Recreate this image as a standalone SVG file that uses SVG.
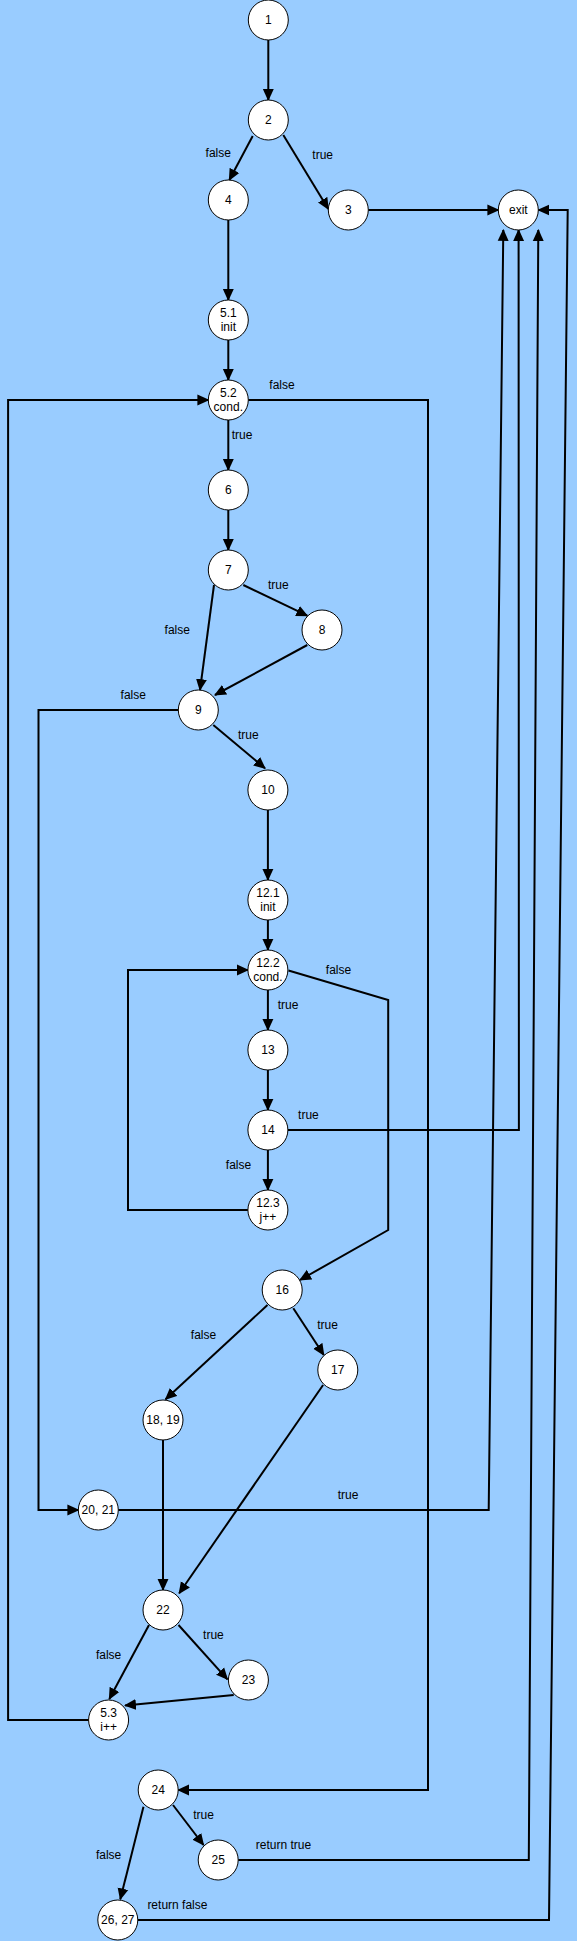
<svg xmlns="http://www.w3.org/2000/svg" width="577" height="1941" viewBox="0 0 577 1941">
<style>
.n{fill:#fff;stroke:#000;stroke-width:1}
.t{font-family:"Liberation Sans",Arial,sans-serif;font-size:12px;fill:#000;text-anchor:middle}
.e{fill:none;stroke:#000;stroke-width:2}
</style>
<defs>
<marker id="a" markerUnits="userSpaceOnUse" markerWidth="12" markerHeight="12" viewBox="0 0 11 10" refX="10" refY="5" orient="auto">
<path d="M0,0 L11,5 L0,10 z" fill="#000"/>
</marker>
</defs>
<rect width="577" height="1941" fill="#99CCFF"/>
<g id="edges">
<path class="e" marker-end="url(#a)" d="M268.3,40 L268.3,100"/>
<path class="e" marker-end="url(#a)" d="M252.7,136 L229.3,180"/>
<path class="e" marker-end="url(#a)" d="M283.3,135 L328.3,209"/>
<path class="e" marker-end="url(#a)" d="M368.3,210 L498.3,210"/>
<path class="e" marker-end="url(#a)" d="M228.3,220 L228.3,300"/>
<path class="e" marker-end="url(#a)" d="M228.3,340 L228.3,380"/>
<path class="e" marker-end="url(#a)" d="M228.3,420 L228.3,470"/>
<path class="e" marker-end="url(#a)" d="M228.3,510 L228.3,550"/>
<path class="e" marker-end="url(#a)" d="M243.3,585 L307.3,615.7"/>
<path class="e" marker-end="url(#a)" d="M214,585 L200,690"/>
<path class="e" marker-end="url(#a)" d="M307.3,645 L215,695"/>
<path class="e" marker-end="url(#a)" d="M213.3,725 L265,768.3"/>
<path class="e" marker-end="url(#a)" d="M178.3,710 L38.5,710 L38.5,1510 L78.3,1510"/>
<path class="e" marker-end="url(#a)" d="M248.3,400 L428,400 L428,1790 L178.2,1790"/>
<path class="e" marker-end="url(#a)" d="M88.6,1720 L8.1,1720 L8.1,400 L208.3,400"/>
<path class="e" marker-end="url(#a)" d="M267.9,810 L267.9,880"/>
<path class="e" marker-end="url(#a)" d="M267.9,920 L267.9,950"/>
<path class="e" marker-end="url(#a)" d="M267.9,990 L267.9,1030"/>
<path class="e" marker-end="url(#a)" d="M267.9,1070 L267.9,1110"/>
<path class="e" marker-end="url(#a)" d="M267.9,1150 L267.9,1190"/>
<path class="e" marker-end="url(#a)" d="M247.9,1210 L128,1210 L128,970 L247.9,970"/>
<path class="e" marker-end="url(#a)" d="M288.5,970.5 L388.2,1000 L388.2,1230 L300,1280"/>
<path class="e" marker-end="url(#a)" d="M287.9,1130 L518.9,1130 L518.6,230"/>
<path class="e" marker-end="url(#a)" d="M293.3,1308.3 L323.8,1355"/>
<path class="e" marker-end="url(#a)" d="M267.5,1305 L165.6,1399.3"/>
<path class="e" marker-end="url(#a)" d="M323.1,1385 L179.2,1593.3"/>
<path class="e" marker-end="url(#a)" d="M163,1440 L163,1590"/>
<path class="e" marker-end="url(#a)" d="M118.3,1510 L488.7,1510 L503.3,230"/>
<path class="e" marker-end="url(#a)" d="M178.5,1625 L227.4,1679.3"/>
<path class="e" marker-end="url(#a)" d="M149,1625 L109.3,1699"/>
<path class="e" marker-end="url(#a)" d="M233.7,1695 L125.1,1705.5"/>
<path class="e" marker-end="url(#a)" d="M173,1805 L203.5,1845"/>
<path class="e" marker-end="url(#a)" d="M143.5,1806.7 L120.3,1899.3"/>
<path class="e" marker-end="url(#a)" d="M238.2,1860 L528.8,1860 L538.3,230"/>
<path class="e" marker-end="url(#a)" d="M137.8,1920 L549,1920 L567.7,210 L538.3,210"/>
</g>
<g id="edge-labels">
<text class="t" x="218.3" y="157">false</text>
<text class="t" x="322.7" y="158.5">true</text>
<text class="t" x="282" y="389">false</text>
<text class="t" x="242" y="439">true</text>
<text class="t" x="278.3" y="589">true</text>
<text class="t" x="177.3" y="634">false</text>
<text class="t" x="133.3" y="699">false</text>
<text class="t" x="248.3" y="739">true</text>
<text class="t" x="338.5" y="974">false</text>
<text class="t" x="288" y="1009">true</text>
<text class="t" x="308.4" y="1119">true</text>
<text class="t" x="238.5" y="1169">false</text>
<text class="t" x="327.5" y="1329">true</text>
<text class="t" x="203.5" y="1339">false</text>
<text class="t" x="348" y="1499">true</text>
<text class="t" x="213.4" y="1639">true</text>
<text class="t" x="108.6" y="1659">false</text>
<text class="t" x="203.5" y="1819">true</text>
<text class="t" x="108.6" y="1859">false</text>
<text class="t" x="283.4" y="1849">return true</text>
<text class="t" x="177.4" y="1909">return false</text>
</g>
<g id="n1"><circle class="n" cx="268.3" cy="20" r="20"/><text class="t" x="268.3" y="24">1</text></g>
<g id="n2"><circle class="n" cx="268.3" cy="120" r="20"/><text class="t" x="268.3" y="124">2</text></g>
<g id="n4"><circle class="n" cx="228.3" cy="200" r="20"/><text class="t" x="228.3" y="204">4</text></g>
<g id="n3"><circle class="n" cx="348.3" cy="210" r="20"/><text class="t" x="348.3" y="214">3</text></g>
<g id="exit"><circle class="n" cx="518.3" cy="210" r="20"/><text class="t" x="518.3" y="214">exit</text></g>
<g id="n5-1"><circle class="n" cx="228.3" cy="320" r="20"/><text class="t" x="228.3" y="317">5.1</text><text class="t" x="228.3" y="331">init</text></g>
<g id="n5-2"><circle class="n" cx="228.3" cy="400" r="20"/><text class="t" x="228.3" y="397">5.2</text><text class="t" x="228.3" y="411">cond.</text></g>
<g id="n6"><circle class="n" cx="228.3" cy="490" r="20"/><text class="t" x="228.3" y="494">6</text></g>
<g id="n7"><circle class="n" cx="228.3" cy="570" r="20"/><text class="t" x="228.3" y="574">7</text></g>
<g id="n8"><circle class="n" cx="322" cy="630" r="20"/><text class="t" x="322" y="634">8</text></g>
<g id="n9"><circle class="n" cx="198.3" cy="710" r="20"/><text class="t" x="198.3" y="714">9</text></g>
<g id="n10"><circle class="n" cx="267.9" cy="790" r="20"/><text class="t" x="267.9" y="794">10</text></g>
<g id="n12-1"><circle class="n" cx="267.9" cy="900" r="20"/><text class="t" x="267.9" y="897">12.1</text><text class="t" x="267.9" y="911">init</text></g>
<g id="n12-2"><circle class="n" cx="267.9" cy="970" r="20"/><text class="t" x="267.9" y="967">12.2</text><text class="t" x="267.9" y="981">cond.</text></g>
<g id="n13"><circle class="n" cx="267.9" cy="1050" r="20"/><text class="t" x="267.9" y="1054">13</text></g>
<g id="n14"><circle class="n" cx="267.9" cy="1130" r="20"/><text class="t" x="267.9" y="1134">14</text></g>
<g id="n12-3"><circle class="n" cx="267.9" cy="1210" r="20"/><text class="t" x="267.9" y="1207">12.3</text><text class="t" x="267.9" y="1221">j++</text></g>
<g id="n16"><circle class="n" cx="282.2" cy="1290" r="20"/><text class="t" x="282.2" y="1294">16</text></g>
<g id="n17"><circle class="n" cx="337.8" cy="1370" r="20"/><text class="t" x="337.8" y="1374">17</text></g>
<g id="n18-19"><circle class="n" cx="163" cy="1420" r="20"/><text class="t" x="163" y="1424">18, 19</text></g>
<g id="n20-21"><circle class="n" cx="98.3" cy="1510" r="20"/><text class="t" x="98.3" y="1514">20, 21</text></g>
<g id="n22"><circle class="n" cx="163" cy="1610" r="20"/><text class="t" x="163" y="1614">22</text></g>
<g id="n23"><circle class="n" cx="248.4" cy="1680" r="20"/><text class="t" x="248.4" y="1684">23</text></g>
<g id="n5-3"><circle class="n" cx="108.6" cy="1720" r="20"/><text class="t" x="108.6" y="1717">5.3</text><text class="t" x="108.6" y="1731">i++</text></g>
<g id="n24"><circle class="n" cx="158.2" cy="1790" r="20"/><text class="t" x="158.2" y="1794">24</text></g>
<g id="n25"><circle class="n" cx="218.2" cy="1860" r="20"/><text class="t" x="218.2" y="1864">25</text></g>
<g id="n26-27"><circle class="n" cx="117.8" cy="1920" r="20"/><text class="t" x="117.8" y="1924">26, 27</text></g>
</svg>
